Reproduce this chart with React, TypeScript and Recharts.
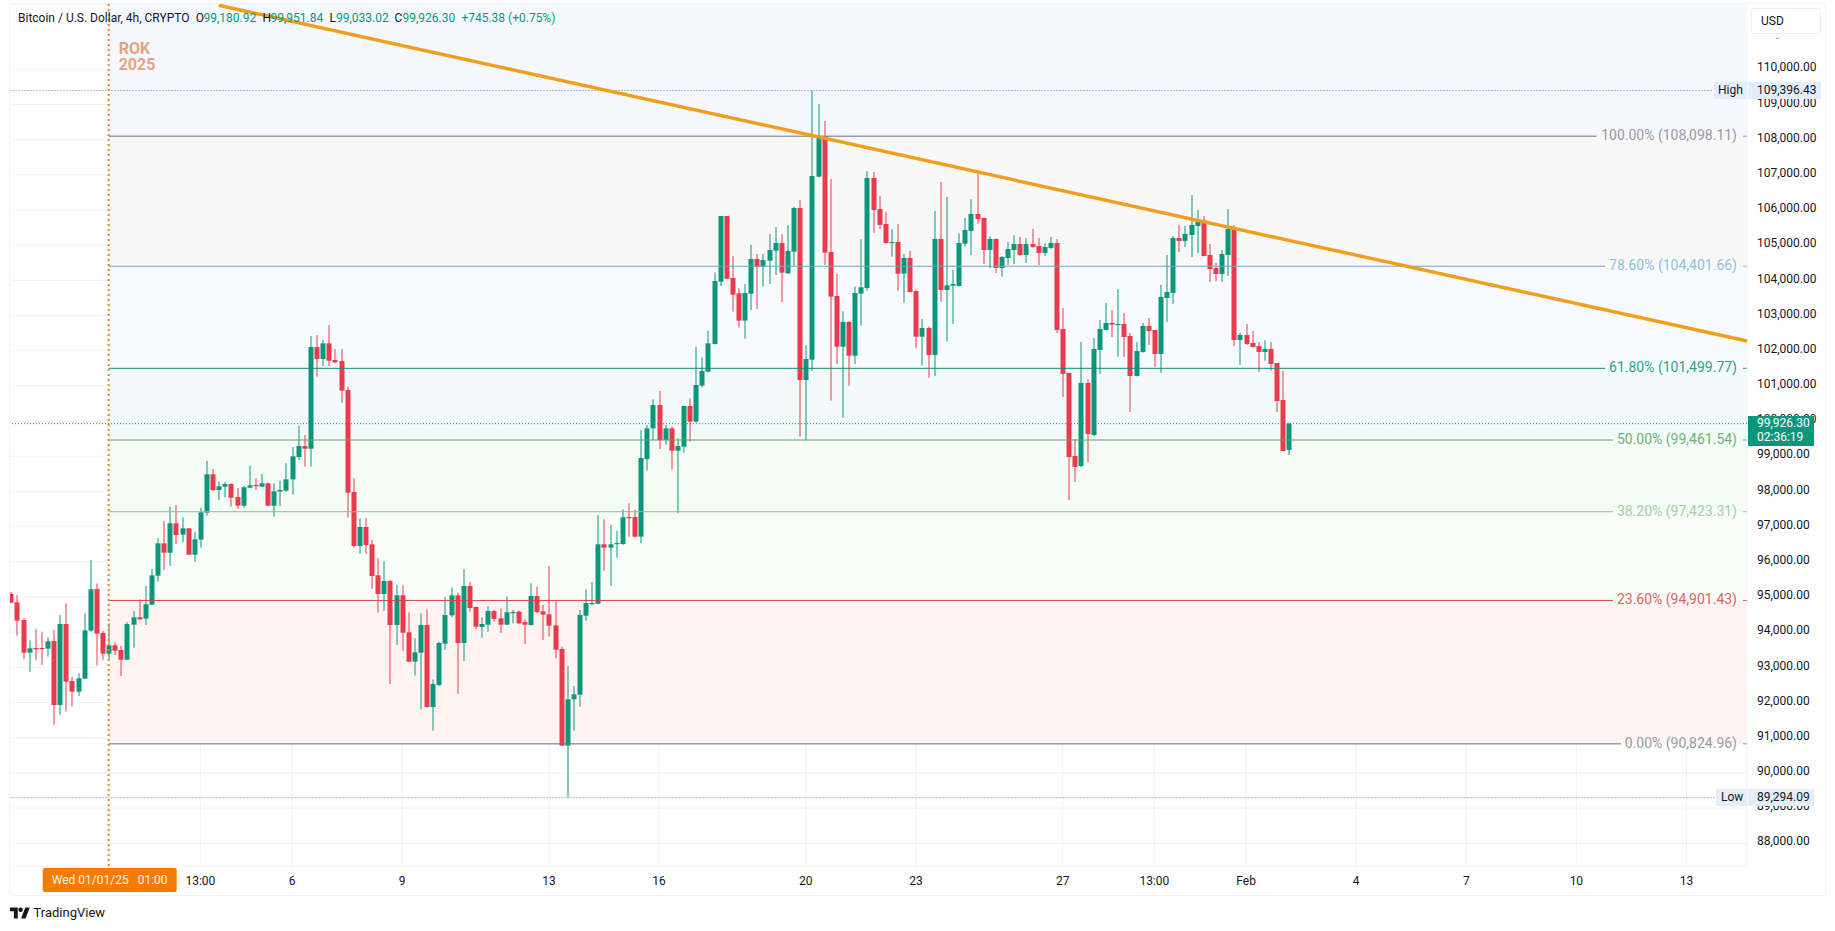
import React from "react";
import { ComposedChart, Bar, XAxis, YAxis, CartesianGrid, ReferenceArea, ReferenceLine, ReferenceDot } from "recharts";

// One letter per 4h candle: g = up, r = down
const directions =
  "rrrgrrgrgr" + "rgggrrgrrg" + "grgggrgrgr" + "gggrggrrgg" + "rgrgggggrg" +
  "rgrrrrrgrr" + "rgrgrrggrg" + "gggrgrrggr" + "rggrrgrrrr" + "rggggggrgg" +
  "grrgggrgrg" + "grgggggrrr" + "ggrgggrggr" + "gggrrrgrgg" + "grrrgrgrrg" +
  "rgrgggggrr" + "grgggrgrrg" + "grrrrgrggg" + "rgrrggrrgg" + "grgggrrrgg" +
  "rgrrrgrrrg";

const highs = [
  95142, 95057, 94403, 93768, 94090, 94014, 93853, 94062, 94488, 94820,
  92735, 92830, 94536, 96052, 95388, 94033, 94251, 93711, 93607, 94280,
  94602, 94933, 95312, 95796, 96667, 97160, 97568, 97615, 97264, 96952,
  96857, 97539, 98866, 98638, 98278, 98269, 98231, 98089, 98155, 98733,
  98373, 98496, 98250, 98231, 98307, 98799, 99264, 99870, 99605, 102419,
  102447, 102305, 102731, 102049, 102049, 100979, 98373, 97236, 97236, 96620,
  96099, 96023, 95483, 95341, 95331, 94564, 93825, 94536, 94649, 92660,
  93730, 95000, 95265, 95123, 95796, 95426, 94725, 94422, 94744, 94630,
  94678, 95009, 94630, 94611, 94365, 95388, 95294, 94772, 95881, 94867,
  93588, 93038, 92470, 94630, 95218, 95426, 97331, 97207, 97046, 96885,
  97492, 97662, 97492, 99747, 99889, 100619, 100855, 99889, 99842, 99510,
  100429, 100647, 102116, 101812, 102570, 104228, 105830, 105830, 104693, 103774,
  103897, 105006, 104750, 104750, 105318, 105517, 105318, 105574, 106095, 106284,
  102163, 109396, 109013, 108530, 106881, 104181, 103120, 102845, 103821, 105176,
  107109, 107080, 106398, 105943, 105460, 105602, 104750, 104835, 103726, 102903,
  102685, 105973, 106797, 106371, 104296, 105338, 105774, 106314, 107129, 105774,
  105253, 105196, 104693, 105091, 105290, 105234, 105205, 105461, 105205, 105063,
  105234, 105177, 103215, 101368, 99492, 102249, 101197, 102363, 102874, 103358,
  103159, 103755, 103073, 102505, 102249, 102789, 102931, 102590, 103869, 104722,
  105262, 105575, 105546, 106427, 105999, 105831, 105034, 104495, 104864, 106029,
  105575, 102505, 102761, 102562, 102249, 102296, 102249, 101652, 101425, 99952,
];

const lows = [
  94820, 93901, 93237, 92877, 93209, 93067, 93304, 91361, 91646, 91740,
  91883, 92186, 92669, 94014, 93048, 93209, 93228, 93351, 92754, 93209,
  93560, 94346, 94204, 94763, 95436, 95767, 95881, 96506, 96554, 96194,
  96004, 96402, 97312, 98013, 97757, 97833, 97568, 97501, 97539, 98098,
  98041, 98117, 97586, 97283, 97586, 97994, 97909, 98894, 98705, 98705,
  101263, 101566, 101566, 101642, 100524, 97264, 96402, 96232, 96232, 95227,
  94554, 94602, 92527, 93635, 93474, 93143, 92764, 91807, 91864, 91200,
  92470, 93493, 94422, 92243, 93181, 94583, 94090, 93844, 94014, 94299,
  93977, 94204, 94251, 94232, 93664, 94185, 94535, 93777, 93872, 93256,
  90765, 89294, 91200, 91883, 94327, 94772, 94791, 95748, 95322, 96118,
  96478, 96715, 96696, 96525, 98591, 99463, 99207, 99320, 98629, 97378,
  99102, 99415, 99955, 100960, 101386, 102182, 103840, 104029, 103110, 102656,
  102343, 103158, 103186, 103821, 103897, 104153, 103385, 104181, 104418, 99557,
  99463, 101433, 106929, 104437, 100580, 101623, 100097, 101007, 101623, 102712,
  103707, 105356, 105460, 105053, 104674, 103707, 103366, 103660, 102078, 101576,
  101235, 101282, 103386, 102258, 102761, 103822, 104959, 104722, 105613, 104466,
  104352, 104210, 104097, 104438, 104466, 104693, 104495, 104930, 104438, 104693,
  104902, 102505, 100686, 97758, 98269, 98696, 98838, 99577, 101339, 102581,
  102391, 101823, 101823, 100259, 101273, 101946, 102164, 101538, 101368, 102817,
  103329, 104807, 104949, 104665, 104779, 104684, 103954, 103983, 103954, 104125,
  102135, 101595, 102164, 102097, 101396, 101709, 101434, 100259, 99141, 99033,
];

const bodyTops = [
  95085, 94848, 94346, 93541, 93550, 93550, 93740, 93749, 94232, 94232,
  92612, 92688, 94052, 95218, 95227, 93977, 93626, 93626, 93493, 94232,
  94422, 94422, 94791, 95616, 96525, 96525, 97094, 97094, 96952, 96952,
  96639, 97406, 98487, 98487, 98145, 98212, 98212, 97842, 98117, 98174,
  98183, 98231, 98231, 98003, 98041, 98344, 98998, 99292, 99292, 102106,
  102106, 102210, 102210, 101737, 101708, 100884, 97984, 96990, 96990, 96497,
  95616, 95455, 95455, 95047, 95047, 93995, 93427, 94204, 94204, 92527,
  93692, 94488, 95047, 95047, 95312, 95312, 94716, 94232, 94602, 94602,
  94393, 94564, 94573, 94583, 94289, 95028, 95028, 94592, 94507, 94194,
  93522, 92091, 92233, 94488, 94829, 94829, 96497, 96497, 96497, 96535,
  97264, 97274, 97274, 98951, 99794, 100457, 100457, 99794, 99794, 99292,
  100429, 100429, 101026, 101424, 102210, 103982, 105830, 105830, 104067, 103632,
  103641, 104607, 104607, 104579, 104863, 105062, 105062, 104835, 106057, 106057,
  101765, 106967, 108104, 108094, 104806, 103556, 102817, 102817, 103641, 103802,
  106910, 106910, 106029, 105602, 105091, 105091, 104636, 104636, 103698, 102647,
  102647, 105177, 105177, 103860, 103898, 105063, 105433, 105887, 105887, 105774,
  105177, 105177, 104665, 104892, 105034, 105034, 105034, 105034, 104978, 104949,
  105063, 105063, 102618, 101368, 99008, 101084, 101084, 102050, 102618, 102789,
  102789, 102761, 102761, 102419, 101993, 102704, 102704, 102590, 103528, 103670,
  105205, 105205, 105319, 105575, 105717, 105717, 104722, 104352, 104750, 105461,
  105461, 102448, 102448, 102220, 102135, 102050, 102050, 101652, 100600, 99926.3,
];

const bodyBottoms = [
  94839, 94327, 93417, 93417, 93531, 93531, 93531, 91930, 91930, 92593,
  92309, 92309, 92678, 94043, 93957, 93389, 93389, 93474, 93218, 93218,
  94213, 94365, 94384, 94782, 95606, 96260, 96260, 96762, 96772, 96203,
  96203, 96630, 97397, 98041, 98041, 98136, 97823, 97596, 97596, 98108,
  98155, 98136, 97596, 97596, 97994, 98022, 98344, 98979, 99216, 99216,
  101765, 101765, 101718, 101670, 100865, 97965, 96450, 96450, 96478, 95597,
  95085, 95085, 94204, 94204, 93986, 93162, 93162, 93417, 91873, 91873,
  92498, 93673, 94479, 93692, 93692, 94687, 94157, 94147, 94213, 94374,
  94213, 94213, 94554, 94251, 94213, 94204, 94573, 94498, 94185, 93503,
  90774, 90774, 92091, 92224, 94469, 94810, 94810, 96402, 96402, 96506,
  96506, 97255, 96715, 96715, 98922, 99794, 99463, 99463, 99159, 99159,
  99273, 99984, 99984, 101007, 101405, 102191, 103963, 104048, 103594, 102855,
  102855, 103622, 104390, 104390, 104560, 104844, 104219, 104200, 104816, 101168,
  101168, 101746, 106948, 104787, 103537, 102116, 102116, 101860, 101860, 103622,
  103783, 106000, 105574, 105062, 105072, 104191, 104191, 103669, 102400, 102401,
  101879, 101879, 103727, 103727, 103850, 103841, 105044, 105404, 105745, 104864,
  104864, 104352, 104352, 104637, 104864, 104722, 104722, 104949, 104779, 104779,
  104921, 102590, 101339, 98980, 98696, 98724, 99634, 99605, 102022, 102590,
  102742, 102742, 102391, 101282, 101282, 101965, 102562, 101908, 101908, 103500,
  103642, 105120, 105120, 105290, 105546, 104693, 104324, 104182, 104182, 104722,
  102306, 102306, 102192, 102107, 101965, 101965, 101624, 100572, 99151, 99180.92,
];

const priceTicks = [
  88000, 89000, 90000, 91000, 92000, 93000, 94000, 95000, 96000, 97000, 98000,
  99000, 100000, 101000, 102000, 103000, 104000, 105000, 106000, 107000, 108000, 109000, 110000,
];
const timeTickIndex = [31, 46, 64, 88, 106, 130, 148, 172, 187, 202, 220, 238, 256, 274];
const timeTickLabels = ["13:00", "6", "9", "13", "16", "20", "23", "27", "13:00", "Feb", "4", "7", "10", "13"];

const fibPrices = [108098.11, 104401.66, 101499.77, 99461.54, 97423.31, 94901.43, 90824.96];
const fibLabels = [
  "100.00% (108,098.11)", "78.60% (104,401.66)", "61.80% (101,499.77)", "50.00% (99,461.54)",
  "38.20% (97,423.31)", "23.60% (94,901.43)", "0.00% (90,824.96)",
];
const fibLineEnds = [259.3, 260.7, 260.7, 262, 262, 262, 263.3];
const fibLineColors = ["#6f6c84", "#6aa5cd", "#14877c", "#5fa363", "#86c088", "#d2474a", "#6f6f78"];
const fibTextColors = ["#9a9ba3", "#8fbfe0", "#2fa093", "#72b075", "#a3d0a5", "#dc6460", "#9a9ba3"];
const zoneFills = ["#f8f8f8", "#f7fbff", "#f3fafa", "#f5fbf5", "#f9fdf9", "#fff4f2"];

const TOP_PRICE = 111856;
const BOTTOM_PRICE = 87353;
const X_MIN = -0.22;
const X_MAX = 283.9;
const YEAR_START = 16;
const HIGH = 109396.43;
const LOW = 89294.09;
const LAST = 99926.3;
const trendStart = { x: 34, y: 111820 };
const trendEnd = { x: X_MAX, y: 102277 };

const GREEN = "#0c977c";
const RED = "#ea3a4c";
const FONT = "Roboto, sans-serif";
const DARK = "#131722";
const PLOT_TOP = 4;
const PLOT_HEIGHT = 862;
const PLOT_RIGHT = 1747;
const priceY = (p: number) => PLOT_TOP + ((TOP_PRICE - p) / (TOP_PRICE - BOTTOM_PRICE)) * PLOT_HEIGHT;

const candles = highs.map((h, i) => ({
  i,
  range: [lows[i], h],
  high: h,
  low: lows[i],
  top: bodyTops[i],
  bottom: bodyBottoms[i],
  up: directions[i] === "g",
}));

function Candle(props: any) {
  const { x, y, width, height, payload } = props;
  if (height == null) return null;
  const span = payload.high - payload.low || 1;
  const k = height / span;
  const cx = Math.round(x + width / 2);
  const bodyY = y + (payload.high - payload.top) * k;
  const bodyH = Math.max((payload.top - payload.bottom) * k, 1.2);
  const color = payload.up ? GREEN : RED;
  return (
    <g>
      <rect x={cx - 0.5} y={y} width={1} height={height} fill={color} />
      <rect x={cx - 2.5} y={bodyY} width={5} height={bodyH} fill={color} />
    </g>
  );
}

const xTick = (props: any) => {
  const { x, y, payload } = props;
  const label = timeTickLabels[timeTickIndex.indexOf(payload.value)];
  return (
    <text x={x} y={y} textAnchor="middle" dominantBaseline="central" fontSize={12} fontFamily={FONT} fill={DARK}>
      {label}
    </text>
  );
};

const yTick = (props: any) => {
  const { x, y, payload } = props;
  return (
    <text x={x} y={y - 1.8} textAnchor="start" dominantBaseline="central" fontSize={12} fontFamily={FONT} fill={DARK}>
      {payload.value.toLocaleString("en-US", { minimumFractionDigits: 2 })}
    </text>
  );
};

const fibLabelShape = (idx: number) => (props: any) => {
  const { cx, cy } = props;
  return (
    <g>
      <text x={cx - 10} y={cy - 1.2} textAnchor="end" dominantBaseline="central" fontSize={14} fontFamily={FONT} fill={fibTextColors[idx]}>
        {fibLabels[idx]}
      </text>
      <line x1={cx - 4} x2={cx} y1={cy} y2={cy} stroke={fibTextColors[idx]} />
    </g>
  );
};

const yearLabel = (props: any) => {
  const { cx, cy } = props;
  return (
    <g fontFamily={FONT} fontSize={16} fontWeight={700} fill="#e6a27f">
      <text x={cx + 10} y={cy + 50}>ROK</text>
      <text x={cx + 10} y={cy + 66}>2025</text>
    </g>
  );
};

const dateLabel = (props: any) => {
  const { cx, cy } = props;
  return (
    <g fontFamily={FONT} fontSize={12} fill="#fff3e0">
      <rect x={cx - 66} y={cy + 2} width={134} height={24} rx={2} fill="#f57c00" />
      <text x={cx - 57} y={cy + 14} dominantBaseline="central">Wed 01/01/25</text>
      <text x={cx + 29} y={cy + 14} dominantBaseline="central">01:00</text>
    </g>
  );
};

const headerBits: { t: string; left: number; c: string }[] = [
  { t: "Bitcoin / U.S. Dollar, 4h, CRYPTO", left: 18, c: DARK },
  { t: "O", left: 195.7, c: DARK },
  { t: "99,180.92", left: 203.5, c: GREEN },
  { t: "H", left: 262.5, c: DARK },
  { t: "99,951.84", left: 270.5, c: GREEN },
  { t: "L", left: 329.5, c: DARK },
  { t: "99,033.02", left: 336, c: GREEN },
  { t: "C", left: 394.5, c: DARK },
  { t: "99,926.30", left: 402.5, c: GREEN },
  { t: "+745.38 (+0.75%)", left: 461.4, c: GREEN },
];

function Tag(props: { price: number; name: string; value: string; leftW: number; rightW: number; nameDx: number }) {
  const { price, name, value, leftW, rightW, nameDx } = props;
  const top = priceY(price) - 8.6;
  const base: React.CSSProperties = { position: "absolute", top, height: 17.2, background: "#e4eefb", fontFamily: FONT, fontSize: 12, lineHeight: "17.2px", color: DARK, whiteSpace: "nowrap" };
  return (
    <>
      <div style={{ ...base, left: PLOT_RIGHT - leftW, width: leftW - nameDx, paddingLeft: nameDx }}>{name}</div>
      <div style={{ ...base, left: PLOT_RIGHT + 1, width: rightW - 9, paddingLeft: 9 }}>{value}</div>
    </>
  );
}

export default function App() {
  const zoneEdges = [...fibPrices];
  return (
    <div style={{ position: "absolute", left: 0, top: 0, width: 1835, height: 931, background: "#fff", overflow: "hidden" }}>
      <ComposedChart
        width={1835}
        height={931}
        data={candles}
        margin={{ top: PLOT_TOP, left: 9.5, right: 11, bottom: 36 }}
      >
        <XAxis
          dataKey="i"
          type="number"
          domain={[X_MIN, X_MAX]}
          ticks={timeTickIndex}
          interval={0}
          axisLine={false}
          tickLine={false}
          tick={xTick}
          tickMargin={15}
          tickSize={0}
          height={29}
          allowDataOverflow
        />
        <YAxis
          orientation="right"
          type="number"
          domain={[BOTTOM_PRICE, TOP_PRICE]}
          ticks={priceTicks}
          interval={0}
          axisLine={false}
          tickLine={false}
          tick={yTick}
          tickMargin={10}
          tickSize={0}
          width={77}
          allowDataOverflow
        />
        <ReferenceArea x1={YEAR_START} x2={X_MAX} y1={fibPrices[0]} y2={TOP_PRICE} fill="#f5f8ff" fillOpacity={1} stroke="none" />
        {zoneFills.map((f, k) => (
          <ReferenceArea key={k} x1={YEAR_START} x2={X_MAX} y1={zoneEdges[k + 1]} y2={zoneEdges[k]} fill={f} fillOpacity={1} stroke="none" />
        ))}
        <CartesianGrid stroke="#eff1f6" strokeWidth={1} />
        <ReferenceLine segment={[{ x: X_MIN, y: HIGH }, { x: 278.4, y: HIGH }]} stroke="#787b86" strokeDasharray="1 2" />
        <ReferenceLine segment={[{ x: X_MIN, y: LOW }, { x: 278.8, y: LOW }]} stroke="#787b86" strokeDasharray="1 2" />
        <ReferenceLine y={LAST} stroke="#3f8279" strokeDasharray="1 2" />
        {fibPrices.map((p, k) => (
          <ReferenceLine key={k} segment={[{ x: YEAR_START, y: p }, { x: fibLineEnds[k], y: p }]} stroke={fibLineColors[k]} strokeWidth={1} />
        ))}
        <ReferenceLine x={YEAR_START} stroke="#e08a1e" strokeWidth={2} strokeDasharray="2 3" />
        <Bar dataKey="range" barSize={5} shape={Candle} isAnimationActive={false} />
        <ReferenceLine segment={[trendStart, trendEnd]} stroke="#f29d1c" strokeWidth={3.4} />
        {fibPrices.map((p, k) => (
          <ReferenceDot key={k} x={X_MAX} y={p} r={0} shape={fibLabelShape(k)} />
        ))}
        <ReferenceDot x={YEAR_START} y={TOP_PRICE} r={0} shape={yearLabel} />
        <ReferenceDot x={YEAR_START} y={BOTTOM_PRICE} r={0} shape={dateLabel} />
      </ComposedChart>

      <div style={{ position: "absolute", left: 9, top: 3, width: 1815, height: 891, border: "1px solid #f0f3fa", pointerEvents: "none" }} />
      {headerBits.map((b, k) => (
        <span key={k} style={{ position: "absolute", left: b.left, top: 11, fontFamily: FONT, fontSize: 12, lineHeight: "14px", color: b.c, whiteSpace: "nowrap" }}>
          {b.t}
        </span>
      ))}
      <Tag price={HIGH} name="High" value="109,396.43" leftW={33} rightW={73} nameDx={4} />
      <Tag price={LOW} name="Low" value="89,294.09" leftW={31} rightW={66} nameDx={5} />
      <div style={{ position: "absolute", left: PLOT_RIGHT + 1, top: priceY(LAST) - 7.5, width: 57, height: 30, paddingLeft: 9, background: GREEN, color: "#fff", fontFamily: FONT, fontSize: 12, lineHeight: "14px", whiteSpace: "nowrap" }}>
        99,926.30
        <br />
        02:36:19
      </div>
      <div style={{ position: "absolute", left: 1751, top: 8, width: 68, height: 24, background: "#fff", border: "1px solid #eceef3", borderRadius: 3, fontFamily: FONT, fontSize: 12, lineHeight: "24px", color: DARK, textIndent: 9 }}>
        USD
      </div>
      <div style={{ position: "absolute", left: 1776, top: 38, width: 3, height: 1, background: "#9a9ba3" }} />
      <svg style={{ position: "absolute", left: 9.5, top: 907 }} width={20} height={12} viewBox="0 0 36 20">
        <path d="M14 20H7V7H0V0h14v20zM28 20h-8l7.5-20h8L28 20z" fill={DARK} />
        <circle cx={19} cy={4} r={4} fill={DARK} />
      </svg>
      <span style={{ position: "absolute", left: 33.5, top: 905, fontFamily: FONT, fontSize: 13, lineHeight: "16px", color: DARK }}>TradingView</span>
    </div>
  );
}
